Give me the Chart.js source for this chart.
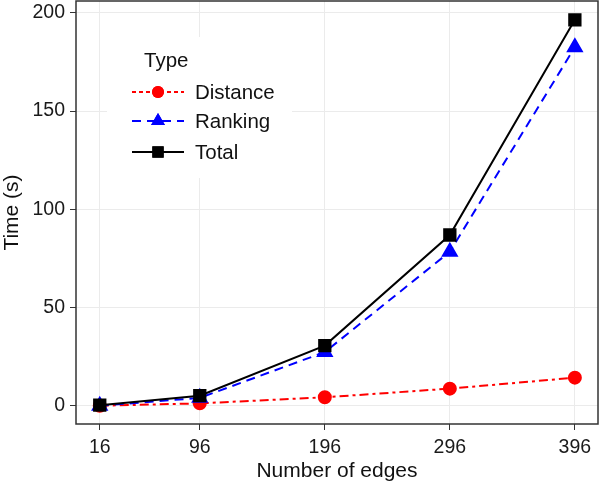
<!DOCTYPE html>
<html>
<head>
<meta charset="utf-8">
<script src="https://cdn.jsdelivr.net/npm/chart.js@4"></script>
<style>
  html, body { margin: 0; padding: 0; background: #fff; }
  #wrap { width: 600px; height: 484px; position: relative; }
</style>
</head>
<body>
<div id="wrap"><canvas id="timeChart"></canvas></div>
<script>
// data
const edges = [16, 96, 196, 296, 396];
const yTicks = [0, 50, 100, 150, 200];
const distance = [0, 1.2, 4.3, 8.7, 14.3];
const ranking = [0, 4, 27.3, 78.4, 182.5];
const total = [0.3, 5.1, 30.6, 86.9, 196.4];

const toPoints = (vals) => vals.map((v, i) => ({ x: edges[i], y: v }));
const FONT = "'Liberation Sans', Arial, sans-serif";

const datasets = [
  {
    label: "Distance",
    data: toPoints(distance),
    borderColor: "#ff0000",
    backgroundColor: "#ff0000",
    borderWidth: 2,
    borderDash: [9, 4, 3, 4],
    pointStyle: "circle",
    pointRadius: 6,
    order: 2,
  },
  {
    label: "Ranking",
    data: toPoints(ranking),
    borderColor: "#0000ff",
    backgroundColor: "#0000ff",
    borderWidth: 2,
    borderDash: [9, 6],
    pointStyle: "triangle",
    pointRadius: 8,
    order: 1,
  },
  {
    label: "Total",
    data: toPoints(total),
    borderColor: "#000000",
    backgroundColor: "#000000",
    borderWidth: 2,
    pointStyle: "rect",
    pointRadius: 8,
    order: 0,
  },
];

// panel border + legend box inside the plot
const panelPlugin = {
  id: "panel",
  afterDatasetsDraw(chart) {
    const { ctx } = chart;
    ctx.save();
    ctx.fillStyle = "#fff";
    ctx.fillRect(107, 37, 185, 141);
    ctx.fillStyle = "#111";
    ctx.font = "20.5px " + FONT;
    ctx.textBaseline = "middle";
    ctx.textAlign = "left";
    ctx.fillText("Type", 144, 61);
    const rows = [92, 121, 152];
    chart.data.datasets.forEach((ds, i) => {
      const y = rows[i];
      ctx.strokeStyle = ds.borderColor;
      ctx.lineWidth = 2;
      ctx.setLineDash(i === 0 ? [4, 3] : (ds.borderDash || []));
      ctx.beginPath();
      ctx.moveTo(132, y);
      ctx.lineTo(184, y);
      ctx.stroke();
      ctx.setLineDash([]);
      ctx.fillStyle = ds.backgroundColor;
      Chart.helpers.drawPoint(ctx, {
        pointStyle: ds.pointStyle,
        radius: ds.pointRadius,
        borderWidth: 0,
      }, 158, y);
      ctx.fill();
      ctx.fillStyle = "#111";
      ctx.fillText(ds.label, 195, y + 1);
    });
    ctx.restore();
  },
  afterDraw(chart) {
    const { ctx, chartArea } = chart;
    ctx.save();
    ctx.strokeStyle = "#333";
    ctx.lineWidth = 1.5;
    ctx.strokeRect(chartArea.left, chartArea.top, chartArea.right - chartArea.left, chartArea.bottom - chartArea.top);
    ctx.restore();
  },
};

new Chart(document.getElementById("timeChart"), {
  type: "line",
  data: { datasets },
  plugins: [panelPlugin],
  options: {
    responsive: true,
    maintainAspectRatio: false,
    animation: false,
    layout: { autoPadding: false, padding: { top: 1, right: 2, left: 0, bottom: 0 } },
    plugins: {
      legend: { display: false },
      tooltip: { enabled: false },
    },
    scales: {
      x: {
        type: "linear",
        min: -3,
        max: 414.5,
        afterBuildTicks: (scale) => {
          scale.ticks = edges.map((v) => ({ value: v }));
        },
        afterFit: (scale) => {
          scale.height = 60;
          scale.paddingLeft = 0;
          scale.paddingRight = 0;
        },
        grid: { color: "#ebebeb", tickColor: "#333", tickLength: 6, lineWidth: 1 },
        border: { display: false },
        ticks: {
          color: "#1a1a1a",
          font: { family: FONT, size: 19.5 },
          padding: 6,
          maxRotation: 0,
          callback: (v) => String(v),
        },
        title: {
          display: true,
          text: "Number of edges",
          color: "#111",
          font: { family: FONT, size: 21 },
          padding: { top: 0, bottom: 0 },
        },
      },
      y: {
        min: -9.3,
        max: 206,
        afterBuildTicks: (scale) => {
          scale.ticks = yTicks.map((v) => ({ value: v }));
        },
        afterFit: (scale) => {
          scale.width = 76;
          scale.paddingTop = 0;
          scale.paddingBottom = 0;
        },
        grid: { color: "#ebebeb", tickColor: "#333", tickLength: 6, lineWidth: 1 },
        border: { display: false },
        ticks: {
          color: "#1a1a1a",
          font: { family: FONT, size: 19.5 },
          padding: 5,
          callback: (v) => String(v),
        },
        title: {
          display: true,
          text: "Time (s)",
          color: "#111",
          font: { family: FONT, size: 21 },
          padding: { top: 0, bottom: 0 },
        },
      },
    },
  },
});
</script>
</body>
</html>
